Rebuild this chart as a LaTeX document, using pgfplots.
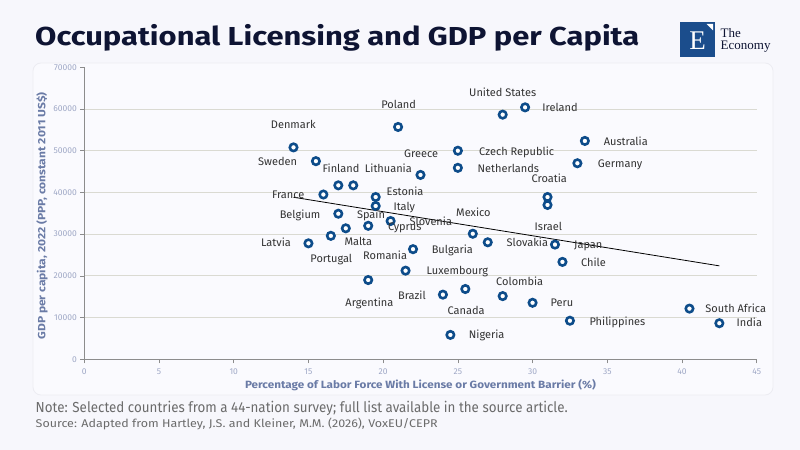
\documentclass[border=0pt]{standalone}
\usepackage{graphicx}
\usepackage{pgfplots}
\pgfplotsset{compat=1.18}
\usepackage{pgfplotstable}
\usepackage{fontspec}
\setmainfont{Fira Sans}
\newfontfamily\logofont{Liberation Serif}
\definecolor{bg}{HTML}{F7F7FC}
\definecolor{cardc}{HTML}{FAFAFE}
\definecolor{cardb}{HTML}{ECECF2}
\definecolor{titlec}{HTML}{0E1433}
\definecolor{markc}{HTML}{0D4C8A}
\definecolor{gridc}{HTML}{DADAD2}
\definecolor{axisc}{HTML}{8C8C8C}
\definecolor{tickc}{HTML}{9FA8C6}
\definecolor{alabc}{HTML}{6A7BA6}
\definecolor{labc}{HTML}{333333}
\definecolor{notec}{HTML}{6B6B6B}
\definecolor{logoblue}{HTML}{1B4D8C}
\newsavebox\fitbox
\newlength\fitlen
\newcommand\fitw[2]{\sbox\fitbox{#2}\setlength\fitlen{\wd\fitbox}\pgfmathsetmacro\fitsf{(#1)/\fitlen}\scalebox{\fitsf}[1]{\usebox\fitbox}}

\pgfplotstableread{
x y
14 50800
15.5 47500
16 39500
17 41700
18 41700
22.5 44200
21 55700
19.5 38900
19.5 36750
17 34900
17.5 31400
19 32000
20.5 33150
15 27800
16.5 29600
22 26400
21.5 21250
19 19000
24 15500
25.5 16850
24.5 5850
26 30100
27 28050
28 15150
30 13550
32.5 9250
28 58650
29.5 60400
25 50000
25 45900
31 38900
31 37000
31.5 27500
32 23350
33.5 52350
33 47000
40.5 12150
42.5 8650
}\pts

\pgfplotstableread[col sep=comma,row sep=\\]{
x,y,label\\
13.99,56160,Denmark\\
12.94,47370,Sweden\\
13.65,39380,France\\
14.44,34660,Belgium\\
12.83,27810,Latvia\\
16.53,23970,Portugal\\
18.34,28190,Malta\\
19.19,34590,Spain\\
21.45,31780,Cyprus\\
23.19,32980,Slovenia\\
17.18,45615,Finland\\
20.35,45540,Lithuania\\
21.47,40100,Estonia\\
21.42,36580,Italy\\
21.04,61030,Poland\\
22.54,49280,Greece\\
20.13,24830,Romania\\
19.08,13570,Argentina\\
24.63,26270,Bulgaria\\
24.97,21090,Luxembourg\\
21.93,15170,Brazil\\
25.55,11505,Canada\\
26.93,5825,Nigeria\\
26.04,35140,Mexico\\
29.65,27880,Slovakia\\
29.14,18530,Colombia\\
31.97,13420,Peru\\
35.68,9010,Philippines\\
28.0,63900,United States\\
31.84,60310,Ireland\\
28.94,49760,Czech Republic\\
28.38,45690,Netherlands\\
31.12,43290,Croatia\\
31.06,31640,Israel\\
33.73,27400,Japan\\
34.07,23155,Chile\\
36.24,52160,Australia\\
35.86,46810,Germany\\
43.6,12130,South Africa\\
44.51,8630,India\\
}\labs

\begin{document}
\begin{tikzpicture}
\path[use as bounding box, fill=bg] (0,0) rectangle (800bp,450bp);
\path[fill=cardc, draw=cardb, line width=0.8bp, rounded corners=8bp] (33bp,55bp) rectangle (773bp,387bp);

\node[anchor=base west, inner sep=0pt, text=titlec] at (35bp,404.3bp)
  {\fitw{604bp}{\fontsize{26bp}{30bp}\selectfont\bfseries Occupational Licensing and GDP per Capita}};

% logo
\fill[logoblue] (680bp,393bp) rectangle (715bp,428bp);
\fill[white] (706.5bp,426bp) -- (713bp,426bp) -- (713bp,419.5bp) -- cycle;
\node[text=white, inner sep=0pt] at (697.5bp,409bp) {\logofont\fontsize{27bp}{30bp}\selectfont E};
\node[anchor=base west, inner sep=0pt, text depth=0pt, text=titlec] at (720.5bp,412bp) {\logofont\fontsize{13bp}{15bp}\selectfont The};
\node[anchor=base west, inner sep=0pt, text height=7bp, text=titlec] at (720.5bp,400.7bp) {\logofont\fontsize{13bp}{15bp}\selectfont Economy};

\begin{axis}[
  at={(84.3bp,90.7bp)}, anchor=south west,
  scale only axis, width=672.4bp, height=292bp,
  xmin=0, xmax=45, ymin=0, ymax=70000,
  xtick={0,5,...,45}, ytick={0,10000,...,60000},
  extra y ticks={70000}, extra y tick style={grid=none},
  axis x line*=bottom, axis y line*=left,
  axis line style={-, draw=axisc, line width=0.8bp},
  tick style={draw=axisc, line width=0.7bp},
  tick align=outside, major tick length=4bp,
  ymajorgrids, grid style={draw=gridc, line width=0.8bp},
  scaled y ticks=false,
  yticklabel style={/pgf/number format/.cd, fixed, 1000 sep={}},
  xticklabel style={yshift=-1.5bp},
  /pgf/number format/assume math mode=true,
  tick label style={font=\fontsize{8.5bp}{10bp}\selectfont, text=tickc},
  clip=false,
]
\addplot[only marks, mark=*, mark size=3.7bp, mark options={fill=white, draw=markc, line width=2.6bp}] table[x=x,y=y] {\pts};
\addplot[black, line width=0.8bp, mark=none] coordinates {(14,38850) (42.5,22400)};
\addplot[draw=none, mark=none, nodes near coords, point meta=explicit symbolic,
  every node near coord/.style={anchor=mid, yshift=-1bp, inner sep=0pt, text=labc, font=\fontsize{11bp}{13bp}\selectfont}]
  table[x=x,y=y,meta=label] {\labs};
\node[text=alabc, inner sep=0pt] at (rel axis cs:0.5,-0.088)
  {\fitw{351bp}{\fontsize{10.5bp}{12bp}\selectfont\bfseries Percentage of Labor Force With License or Government Barrier (\%)}};
\node[text=alabc, inner sep=0pt, rotate=90] at (rel axis cs:-0.0629,0.491)
  {\fitw{247bp}{\fontsize{10.5bp}{12bp}\selectfont\bfseries GDP per capita, 2022 (PPP, constant 2011 US\$)}};
\end{axis}

\node[anchor=base west, inner sep=0pt, text=notec] at (35.5bp,38bp)
  {\fitw{532bp}{\fontsize{14.5bp}{17bp}\selectfont Note: Selected countries from a 44-nation survey; full list available in the source article.}};
\node[anchor=base west, inner sep=0pt, text=notec] at (35.5bp,22.5bp)
  {\fitw{402bp}{\fontsize{11.2bp}{13bp}\selectfont Source: Adapted from Hartley, J.S. and Kleiner, M.M. (2026), VoxEU/CEPR}};
\end{tikzpicture}
\end{document}
